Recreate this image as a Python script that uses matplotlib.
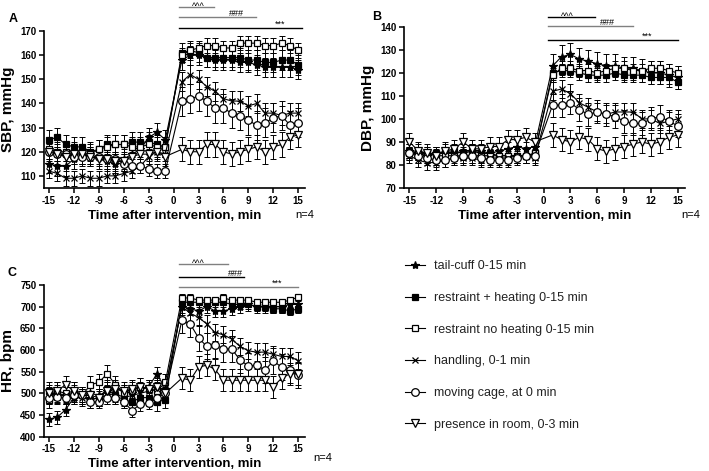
import matplotlib
matplotlib.use("Agg")
import matplotlib.pyplot as plt

plt.rcParams['font.family'] = ['Liberation Sans', 'DejaVu Sans']
plt.rcParams['axes.unicode_minus'] = False

# -- time points --
t_pre = [-15, -14, -13, -12, -11, -10, -9, -8, -7, -6, -5, -4, -3, -2, -1]
t_post = [1, 2, 3, 4, 5, 6, 7, 8, 9, 10, 11, 12, 13, 14, 15]
times = t_pre + t_post

groups = ['tail-cuff 0-15 min', 'restraint + heating 0-15 min',
          'restraint no heating 0-15 min', 'handling, 0-1 min',
          'moving cage, at 0 min', 'presence in room, 0-3 min']

# -- SBP, mmHg --
sbp_tail = [115, 114, 114, 117, 118, 118, 118, 116, 115, 117, 119, 121, 126, 128, 125,
            158, 160, 160, 159, 158, 158, 158, 157, 157, 156, 155, 155, 155, 155, 154]
sbp_rh = [125, 126, 123, 122, 122, 120, 121, 123, 123, 123, 124, 124, 124, 123, 122,
          161, 162, 161, 159, 159, 159, 159, 159, 158, 158, 157, 157, 158, 158, 156]
sbp_rnh = [121, 120, 120, 120, 119, 119, 121, 122, 123, 123, 122, 122, 123, 122, 122,
           160, 162, 163, 164, 164, 163, 163, 165, 165, 165, 164, 164, 165, 164, 162]
sbp_hand = [112, 111, 109, 109, 110, 109, 109, 110, 110, 111, 112, 114, 118, 120, 119,
            149, 152, 150, 147, 145, 142, 141, 141, 139, 140, 136, 136, 135, 136, 136]
sbp_cage = [120, 119, 119, 118, 118, 118, 118, 117, 117, 115, 114, 114, 113, 112, 112,
            141, 142, 143, 141, 138, 138, 136, 135, 133, 131, 132, 134, 135, 131, 132]
sbp_room = [120, 119, 118, 119, 119, 118, 117, 117, 116, 116, 118, 119, 119, 120, 118,
            121, 120, 120, 123, 123, 120, 119, 120, 121, 122, 120, 122, 123, 126, 127]

# -- DBP, mmHg --
dbp_tail = [86, 85, 84, 85, 85, 85, 86, 86, 86, 85, 86, 87, 88, 87, 88,
            123, 127, 128, 126, 125, 124, 123, 123, 122, 122, 121, 120, 120, 119, 118]
dbp_rh = [86, 86, 85, 85, 86, 86, 85, 86, 85, 85, 84, 84, 84, 84, 85,
          120, 121, 121, 120, 119, 119, 119, 120, 119, 119, 119, 118, 118, 118, 116]
dbp_rnh = [85, 85, 85, 84, 84, 84, 84, 84, 84, 84, 84, 84, 84, 84, 85,
           119, 122, 122, 121, 121, 120, 121, 122, 122, 121, 121, 122, 122, 121, 120]
dbp_hand = [84, 82, 81, 81, 82, 83, 83, 83, 82, 83, 83, 83, 84, 84, 83,
            112, 113, 111, 107, 105, 103, 102, 103, 103, 103, 100, 100, 98, 99, 100]
dbp_cage = [85, 84, 83, 82, 82, 83, 84, 84, 83, 82, 82, 82, 83, 84, 84,
            106, 106, 107, 104, 102, 103, 102, 101, 99, 98, 98, 100, 101, 99, 97]
dbp_room = [90, 86, 85, 84, 86, 87, 90, 87, 87, 88, 88, 91, 91, 92, 90,
            93, 91, 90, 92, 91, 87, 86, 87, 88, 89, 90, 89, 90, 92, 93]

# -- HR, bpm --
hr_tail = [440, 445, 462, 490, 495, 500, 495, 505, 510, 505, 500, 510, 515, 545, 510,
           700, 695, 690, 700, 690, 690, 695, 700, 705, 700, 700, 700, 700, 705, 705]
hr_rh = [505, 495, 495, 495, 495, 485, 490, 510, 495, 485, 480, 490, 490, 480, 485,
         710, 710, 710, 710, 710, 710, 705, 705, 705, 700, 700, 695, 695, 690, 695]
hr_rnh = [485, 505, 500, 505, 495, 520, 525, 545, 520, 500, 505, 515, 510, 505, 525,
          720, 720, 715, 715, 715, 720, 715, 715, 715, 710, 710, 710, 710, 715, 722]
hr_hand = [495, 500, 495, 500, 490, 485, 490, 495, 500, 490, 495, 500, 505, 510, 510,
           700, 685, 675, 660, 640, 635, 625, 608, 598, 595, 595, 590, 585, 585, 575]
hr_cage = [490, 492, 490, 495, 495, 480, 480, 490, 490, 480, 460, 475, 478, 490, 500,
           668, 660, 628, 608, 612, 603, 602, 577, 563, 565, 553, 575, 560, 553, 542]
hr_room = [500, 505, 520, 505, 495, 495, 490, 505, 510, 505, 510, 515, 510, 515, 500,
           535, 530, 560, 565, 555, 530, 530, 530, 530, 530, 530, 515, 535, 545, 545]

# -- SEM (pre, post) per group --
sem_sbp = [(4, 4), (4, 4), (4, 3), (3, 4), (3, 6), (4, 5)]
sem_dbp = [(3, 5), (3, 3), (3, 3), (3, 4), (3, 5), (4, 5)]
sem_hr = [(15, 15), (20, 10), (20, 8), (20, 20), (15, 30), (20, 25)]

styles = [dict(marker='*', mfc='k', ms=6),
          dict(marker='s', mfc='k', ms=5),
          dict(marker='s', mfc='white', ms=5),
          dict(marker='x', mfc='k', ms=4.5),
          dict(marker='o', mfc='white', ms=5.5),
          dict(marker='v', mfc='white', ms=5.5)]

panels = [
    dict(pos=[0.062, 0.601, 0.368, 0.333], data=[sbp_tail, sbp_rh, sbp_rnh, sbp_hand, sbp_cage, sbp_room],
         sem=sem_sbp, ylim=(105, 170), yticks=range(110, 171, 10), ylabel='SBP, mmHg', tag='A',
         ntxt=(1.0, -0.17), tagpos=(-0.135, 1.08),
         sig=[(0.6, 4.9, 180.0, '^^^', 3.0, '#808080'), (0.6, 9.9, 175.8, '###', 7.6, '#808080'),
              (0.6, 15.5, 171.2, '***', 12.8, 'k')]),
    dict(pos=[0.570, 0.601, 0.396, 0.342], data=[dbp_tail, dbp_rh, dbp_rnh, dbp_hand, dbp_cage, dbp_room],
         sem=sem_dbp, ylim=(70, 140), yticks=range(70, 141, 10), ylabel='DBP, mmHg', tag='B',
         ntxt=(1.02, -0.17), tagpos=(-0.115, 1.06),
         sig=[(0.5, 5.8, 144.3, '^^^', 2.7, 'k'), (0.5, 10.0, 140.2, '###', 7.1, '#808080'),
              (0.5, 15.0, 134.3, '***', 11.6, 'k')]),
    dict(pos=[0.062, 0.073, 0.368, 0.322], data=[hr_tail, hr_rh, hr_rnh, hr_hand, hr_cage, hr_room],
         sem=sem_hr, ylim=(400, 750), yticks=range(400, 751, 50), ylabel='HR, bpm', tag='C',
         ntxt=(1.07, -0.14), tagpos=(-0.14, 1.08),
         sig=[(0.6, 6.5, 798, '^^^', 3.0, '#808080'), (0.6, 8.5, 768, '###', 7.5, 'k'),
              (0.6, 15.0, 746, '***', 12.5, '#808080')]),
]

fig = plt.figure(figsize=(7.09, 4.71), dpi=100)
handles = []
for p in panels:
    ax = fig.add_axes(p['pos'])
    for i, vals in enumerate(p['data']):
        pre_e, post_e = p['sem'][i]
        err = [pre_e] * len(t_pre) + [post_e] * len(t_post)
        ax.errorbar(times, vals, yerr=err, fmt='none', ecolor='k', elinewidth=0.7,
                    capsize=2.5, capthick=0.7, zorder=2)
        st = styles[i]
        ln, = ax.plot(times, vals, color='k', lw=0.8, marker=st['marker'], ms=st['ms'],
                      mfc=st['mfc'], mec='k', mew=0.9, zorder=3 + i * 0.1, label=groups[i])
        if p['tag'] == 'A':
            handles.append(ln)
    ax.set_xlim(-15.6, 15.8)
    ax.set_ylim(*p['ylim'])
    ax.set_xticks([-15, -12, -9, -6, -3, 0, 3, 6, 9, 12, 15])
    ax.set_yticks(list(p['yticks']))
    for s in ['top', 'right']:
        ax.spines[s].set_visible(False)
    for s in ['left', 'bottom']:
        ax.spines[s].set_linewidth(1.2)
    ax.tick_params(width=1.1, length=3.5, labelsize=7, pad=2)
    for lb in ax.get_xticklabels() + ax.get_yticklabels():
        lb.set_fontweight('bold')
    ax.set_ylabel(p['ylabel'], fontsize=11, fontweight='bold', labelpad=4)
    ax.set_xlabel('Time after intervention, min', fontsize=9.5, fontweight='bold', labelpad=3)
    ax.text(p['ntxt'][0], p['ntxt'][1], 'n=4', transform=ax.transAxes, fontsize=8,
            ha='center', va='center')
    ax.text(p['tagpos'][0], p['tagpos'][1], p['tag'], transform=ax.transAxes, fontsize=9,
            fontweight='bold', ha='left', va='center')
    for x0, x1, y, lab, tx, col in p['sig']:
        ax.plot([x0, x1], [y, y], color=col, lw=1.0, clip_on=False)
        dy = -1.2 if lab == '^^^' else 1.0
        ax.annotate(lab, (tx, y), xytext=(0, dy), textcoords='offset points',
                    ha='center', va='baseline', fontsize=6.5, color='k', annotation_clip=False)

fig.legend(handles=handles, loc='upper left', bbox_to_anchor=(0.571, 0.447), frameon=False,
           fontsize=9, handlelength=1.6, handletextpad=0.7, labelspacing=1.57,
           borderpad=0, borderaxespad=0, labelcolor='#222222')

fig.savefig('out.png', dpi=100)
